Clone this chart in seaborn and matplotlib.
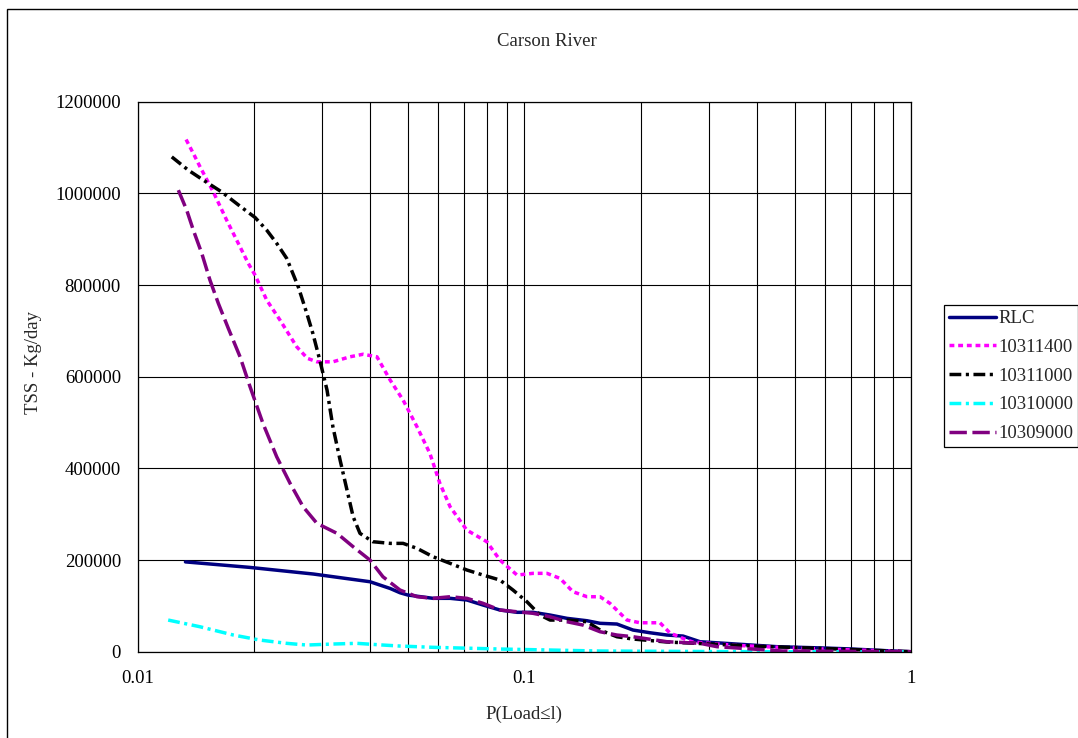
import matplotlib
matplotlib.use("Agg")
import matplotlib.pyplot as plt
from matplotlib.patches import Rectangle
from matplotlib.ticker import LogLocator, FixedLocator, FixedFormatter, NullFormatter
import seaborn as sns
import pandas as pd

# Load-duration curves, Carson River (TSS in kg/day vs exceedance probability)
rlc_x = [0.0133, 0.0195, 0.0285, 0.0399, 0.045, 0.0477, 0.050, 0.0581, 0.0643, 0.0711,
         0.0782, 0.0865, 0.0958, 0.1053, 0.1166, 0.129, 0.1453, 0.157, 0.1736, 0.191,
         0.2113, 0.2339, 0.2573, 0.2848, 0.35, 0.45, 0.6, 0.7, 0.85, 1.0]
rlc_y = [196000, 184000, 169500, 152700, 138000, 128700, 123700, 116500, 116500, 112800,
         101900, 91000, 86000, 86000, 80000, 72800, 67600, 62000, 60400, 47300,
         41400, 36400, 34200, 21800, 17000, 11000, 8000, 6000, 2500, 0]

s10311400_x = [0.01335, 0.01394, 0.01451, 0.0157, 0.0170, 0.01841, 0.01934, 0.02013, 0.02158,
               0.02336, 0.0258, 0.0275, 0.0291, 0.032, 0.0354, 0.0383, 0.0416, 0.045, 0.0486,
               0.0528, 0.057, 0.0605, 0.0643, 0.071, 0.080, 0.0865, 0.0958, 0.1053, 0.1145,
               0.1237, 0.1336, 0.1453, 0.157, 0.1665, 0.1843, 0.1991, 0.2243, 0.2381, 0.2635,
               0.2731, 0.35, 0.5, 0.7, 1.0]
s10311400_y = [1117500, 1087000, 1057800, 1003000, 941500, 883300, 847000, 821600, 767000,
               723400, 665200, 640000, 632500, 632500, 643400, 649000, 643400, 592600, 549000,
               490700, 432700, 367300, 316200, 265400, 240000, 200000, 167300, 171000, 171000,
               160000, 130900, 120000, 120000, 105600, 69100, 63200, 63200, 40800, 25500,
               21200, 14000, 8000, 4000, 0]

s10311000_x = [0.01226, 0.01353, 0.0148, 0.01651, 0.01841, 0.02013, 0.02158, 0.02291, 0.02431,
               0.02604, 0.0274, 0.0284, 0.0296, 0.0309, 0.032, 0.0334, 0.0348, 0.0361, 0.0376,
               0.0406, 0.045, 0.0486, 0.0528, 0.0581, 0.0643, 0.0711, 0.0782, 0.0865, 0.0935,
               0.1016, 0.1098, 0.1166, 0.129, 0.1453, 0.157, 0.1736, 0.191, 0.2339, 0.3, 0.4,
               0.6, 1.0]
s10311000_y = [1079600, 1050600, 1028800, 1003000, 972000, 947400, 919700, 890700, 858000,
               796000, 738000, 694400, 636000, 570800, 490700, 418000, 352700, 294400, 258200,
               240000, 236400, 236400, 225500, 207200, 192800, 178200, 167300, 156400, 134600,
               109000, 80000, 69100, 69100, 65400, 47300, 32700, 27700, 21200, 17000, 12000,
               7000, 0]

s10310000_x = [0.012, 0.0145, 0.0177, 0.0207, 0.0243, 0.0274, 0.032, 0.0369, 0.0431, 0.0477,
               0.0581, 0.0865, 0.157, 0.285, 0.44, 1.0]
s10310000_y = [69100, 54500, 36400, 25500, 18300, 14600, 16800, 18300, 14600, 12400,
               9600, 5900, 1500, 500, 0, 0]

s10309000_x = [0.01275, 0.0134, 0.01394, 0.01466, 0.01539, 0.01618, 0.01717, 0.01841, 0.01954,
               0.0211, 0.0229, 0.0248, 0.0268, 0.0291, 0.0328, 0.0361, 0.0399, 0.0431, 0.0477,
               0.0528, 0.0581, 0.0643, 0.0711, 0.0782, 0.0865, 0.0958, 0.1053, 0.1166, 0.129,
               0.1418, 0.157, 0.1736, 0.191, 0.2339, 0.2848, 0.315, 0.4665, 1.0]
s10309000_y = [1007000, 963400, 919700, 868900, 810700, 759800, 705300, 643400, 578000,
               498000, 425300, 367300, 316200, 280000, 258200, 229000, 200000, 163600, 134600,
               120000, 116500, 120000, 116500, 105600, 91000, 87200, 83800, 76300, 65400,
               58200, 43600, 36400, 32700, 21800, 18300, 11000, 1500, 0]

series_names = ["RLC", "10311400", "10311000", "10310000", "10309000"]
series_x = [rlc_x, s10311400_x, s10311000_x, s10310000_x, s10309000_x]
series_y = [rlc_y, s10311400_y, s10311000_y, s10310000_y, s10309000_y]

x_ticks = [0.01, 0.1, 1]
x_tick_labels = ["0.01", "0.1", "1"]
y_ticks = [0, 200000, 400000, 600000, 800000, 1000000, 1200000]

colors = ["#000080", "#FF00FF", "#000000", "#00FFFF", "#800080"]
styles = ["-", (0, (1.4, 1.1)), (0, (3.4, 1.3, 0.9, 1.3)), (0, (3.4, 1.3, 0.9, 1.3)), (0, (5.0, 1.6))]

sns.set_style("white")
plt.rcParams["font.family"] = ["Liberation Serif", "DejaVu Serif"]
FS = 13.5

fig = plt.figure(figsize=(10.78, 7.38), dpi=100)
ax = fig.add_axes([0.1276, 0.1169, 0.7175, 0.7453])

for name, xs, ys, c, ls in zip(series_names, series_x, series_y, colors, styles):
    df = pd.DataFrame({"p": xs, "load": ys})
    sns.lineplot(data=df, x="p", y="load", ax=ax, color=c, linestyle=ls, linewidth=2.5,
                 sort=False, estimator=None, label=name)

ax.set_xscale("log")
ax.set_xlim(0.01, 1)
ax.set_ylim(0, 1200000)
ax.xaxis.set_major_locator(FixedLocator(x_ticks))
ax.xaxis.set_major_formatter(FixedFormatter(x_tick_labels))
ax.xaxis.set_minor_locator(LogLocator(base=10, subs=[2, 3, 4, 5, 6, 7, 8, 9]))
ax.xaxis.set_minor_formatter(NullFormatter())
ax.set_yticks(y_ticks)
ax.set_yticklabels([str(v) for v in y_ticks])

ax.tick_params(axis="both", which="major", direction="out", length=5, width=0.9,
               color="black", labelsize=FS, labelcolor="black")
ax.tick_params(axis="x", which="major", pad=8.5)
ax.tick_params(axis="y", which="major", pad=7)
ax.tick_params(axis="x", which="minor", length=0)

ax.xaxis.grid(True, which="both", color="black", linewidth=0.8)
ax.yaxis.grid(True, which="major", color="black", linewidth=0.8)
ax.set_axisbelow(True)
for sp in ax.spines.values():
    sp.set_color("black")
    sp.set_linewidth(0.9)

ax.set_xlabel("P(Load≤l)", fontsize=FS)
ax.set_ylabel("TSS - Kg/day", fontsize=FS)
ax.xaxis.set_label_coords(0.4997, -0.099)
ax.yaxis.set_label_coords(-0.1235, 0.525)

fig.text(0.507, 0.9435, "Carson River", ha="center", va="center", fontsize=FS)

handles, labels = ax.get_legend_handles_labels()
ax.legend(handles, labels, loc="center left", bbox_to_anchor=(944 / 1078, 1 - 376 / 738),
          bbox_transform=fig.transFigure, fontsize=FS, frameon=True, fancybox=False,
          edgecolor="black", framealpha=1, borderaxespad=0, borderpad=0.25,
          labelspacing=0.62, handlelength=2.5, handletextpad=0.15)
ax.get_legend().get_frame().set_linewidth(0.9)

fig.patches.append(Rectangle((7 / 1078, -0.1), 1.2, (1 - 9 / 738) + 0.1,
                             transform=fig.transFigure, fill=False,
                             edgecolor="black", linewidth=1.0))

fig.savefig("out.png", dpi=100)
